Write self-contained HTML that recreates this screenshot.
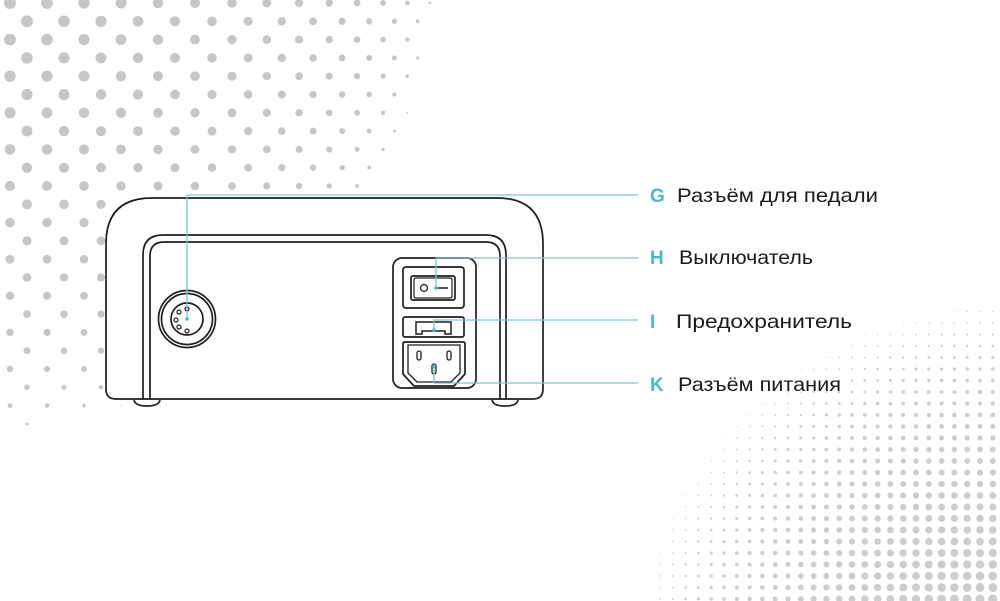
<!DOCTYPE html>
<html><head><meta charset="utf-8"><style>
html,body{margin:0;padding:0;background:#fff;width:1000px;height:601px;overflow:hidden}
svg{display:block}
.lbl{font-family:"Liberation Sans",sans-serif;font-size:19.5px;fill:#1a1a1a}
.let{font-family:"Liberation Sans",sans-serif;font-size:19px;font-weight:bold;fill:#4fb8c0}
</style></head><body>
<svg id="s" width="1000" height="601" viewBox="0 0 1000 601" xmlns="http://www.w3.org/2000/svg">
<g id="dots" fill="#c6c6c6"></g>
<g id="dots2" fill="#cdcdcd"></g>
<g fill="none" stroke="#1e1e1e" stroke-width="1.7">
<path d="M106 389 L106 244 Q106 198 152 198 L497 198 Q543 198 543 244 L543 389 Q543 399 533 399 L116 399 Q106 399 106 389 Z" fill="#fff"/>
<path d="M134 400 Q135 406 147 406 Q159 406 160 400"/>
<path d="M492 400 Q493 406 505 406 Q517 406 518 400"/>
<path d="M143 399 L143 255 Q143 235 163 235 L486 235 Q506 235 506 255 L506 399"/>
<path d="M150 399 L150 256 Q150 242 164 242 L486 242 Q500 242 500 256 L500 399"/>
<circle cx="187" cy="319" r="28.5"/>
<circle cx="187" cy="319" r="25.5"/>
<circle cx="187" cy="319" r="16"/>
<g stroke-width="1.2"><circle cx="187" cy="309" r="2"/><circle cx="179" cy="312" r="2"/><circle cx="176" cy="320" r="2"/><circle cx="179" cy="327" r="2"/><circle cx="187" cy="331" r="2"/></g>
<rect x="393" y="258" width="83" height="130" rx="9"/>
<rect x="403" y="267" width="61" height="41" rx="3"/>
<rect x="411" y="276" width="44" height="24" rx="2"/>
<rect x="414" y="278" width="38" height="20" rx="1.5" stroke-width="1.2"/>
<circle cx="424" cy="288" r="3.5" stroke-width="1.3"/>
<line x1="437" y1="288" x2="448" y2="288" stroke-width="1.5"/>
<rect x="403" y="317" width="61" height="20" rx="2"/>
<path d="M416 322 L451 322 L451 334 L445 334 L445 331 L422 331 L422 334 L416 334 Z" stroke-width="1.5"/>
<path d="M405 342 L463 342 Q465 342 465 344 L465 374 L454 386 L414 386 L403 374 L403 344 Q403 342 405 342 Z"/>
<path d="M408 345 L460 345 L460 373 L451 382 L417 382 L408 373 Z" stroke-width="1.3"/>
<rect x="417" y="351" width="4" height="9" rx="2" stroke-width="1.3"/>
<rect x="447" y="351" width="4" height="9" rx="2" stroke-width="1.3"/>
<rect x="432" y="364" width="4" height="10" rx="2" stroke-width="1.3"/>
</g>
<g stroke="#7cc6cb" stroke-width="1.3" fill="none">
<path d="M187 319 L187 195 L638 195"/>
<path d="M436 288 L436 258 L638 258"/>
<path d="M434 330 L434 320 L638 320"/>
<path d="M434 366 L434 383 L638 383"/>
</g>
<g fill="#4fb8c0"><circle cx="187" cy="319" r="1.8"/><circle cx="436" cy="288" r="1.8"/><circle cx="434" cy="330" r="1.8"/><circle cx="434" cy="366" r="1.8"/></g>
<text class="let" x="650" y="202">G</text>
<text class="lbl" x="677" y="202" textLength="201" lengthAdjust="spacingAndGlyphs">Разъём для педали</text>
<text class="let" x="650" y="264">H</text>
<text class="lbl" x="679" y="264" textLength="134" lengthAdjust="spacingAndGlyphs">Выключатель</text>
<text class="let" x="650" y="328">I</text>
<text class="lbl" x="676" y="328" textLength="176" lengthAdjust="spacingAndGlyphs">Предохранитель</text>
<text class="let" x="650" y="391">K</text>
<text class="lbl" x="678" y="391" textLength="163" lengthAdjust="spacingAndGlyphs">Разъём питания</text>
</svg>
<script>
(function(){
var g=document.getElementById('dots'),h='';
for(var r=0;r<24;r++){
 var y=3+r*18.3;
 var x=(r%2)?27:10;
 while(x<520){
  var d=Math.sqrt((x+60)*(x+60)+(y+60)*(y+60));
  var R=500;
  if(d<R){
   var t=1-d/R;
   var rad=6.5*Math.pow(t,0.35);
   if(rad>0.5) h+='<circle cx="'+x.toFixed(1)+'" cy="'+y.toFixed(1)+'" r="'+rad.toFixed(2)+'"/>';
  }
  var step=37-Math.max(0,x-200)*0.07;
  if(step<14)step=14;
  x+=step;
 }
}
g.innerHTML=h;
var g2=document.getElementById('dots2'),h2='';
for(var yy=300;yy<610;yy+=11.5){
 for(var xx=660;xx<1010;xx+=12.8){
  var dx=xx-1010,dy=yy-680;
  var d2=Math.sqrt(dx*dx+dy*dy);
  var R2=390;
  if(d2>R2)continue;
  var t2=1-d2/R2;
  var rad2=5.5*Math.pow(t2,0.75);
  if(rad2<0.45)continue;
  h2+='<circle cx="'+xx.toFixed(1)+'" cy="'+yy.toFixed(1)+'" r="'+rad2.toFixed(2)+'"/>';
 }
}
g2.innerHTML=h2;
})();
</script>
</body></html>
